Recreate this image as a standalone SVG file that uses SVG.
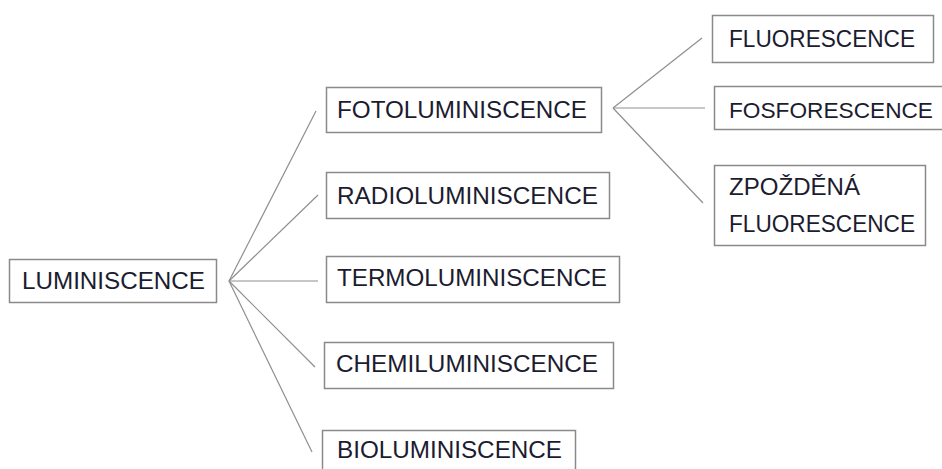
<svg xmlns="http://www.w3.org/2000/svg" width="942" height="469" viewBox="0 0 942 469">
<style>
.box{fill:#fff;stroke:#8a8a8a;stroke-width:1.5}
.t{font-family:"Liberation Sans",Arial,sans-serif;font-size:24px;fill:#1c1c30}
.c line{stroke:#8f8f8f;stroke-width:1.2}
</style>
<rect width="942" height="469" fill="#fff"/>
<g class="c" id="connectors">
<line x1="229" y1="281" x2="316" y2="111"/>
<line x1="229" y1="281" x2="318" y2="195"/>
<line x1="229" y1="281" x2="318" y2="281"/>
<line x1="229" y1="281" x2="315" y2="367"/>
<line x1="229" y1="281" x2="312" y2="452"/>
<line x1="613" y1="108" x2="702" y2="38"/>
<line x1="613" y1="108" x2="705" y2="108"/>
<line x1="613" y1="108" x2="703" y2="203"/>
</g>
<g id="luminiscence"><rect class="box" x="9.5" y="259.5" width="207" height="43"/><text class="t" x="22" y="289" textLength="183" lengthAdjust="spacingAndGlyphs">LUMINISCENCE</text></g>
<g id="fotoluminiscence"><rect class="box" x="326.5" y="87.5" width="275" height="45"/><text class="t" x="337" y="118" textLength="250" lengthAdjust="spacingAndGlyphs">FOTOLUMINISCENCE</text></g>
<g id="radioluminiscence"><rect class="box" x="326.5" y="172.5" width="283" height="46"/><text class="t" x="337" y="204" textLength="261" lengthAdjust="spacingAndGlyphs">RADIOLUMINISCENCE</text></g>
<g id="termoluminiscence"><rect class="box" x="326.5" y="256.5" width="293" height="46"/><text class="t" x="337" y="286" textLength="270" lengthAdjust="spacingAndGlyphs">TERMOLUMINISCENCE</text></g>
<g id="chemiluminiscence"><rect class="box" x="324.5" y="342.5" width="289" height="46"/><text class="t" x="336" y="372" textLength="262" lengthAdjust="spacingAndGlyphs">CHEMILUMINISCENCE</text></g>
<g id="bioluminiscence"><rect class="box" x="322.5" y="430.5" width="253" height="46"/><text class="t" x="337" y="458" textLength="225" lengthAdjust="spacingAndGlyphs">BIOLUMINISCENCE</text></g>
<g id="fluorescence"><rect class="box" x="712.5" y="15.5" width="221" height="47"/><text class="t" x="729" y="47" textLength="186" lengthAdjust="spacingAndGlyphs">FLUORESCENCE</text></g>
<g id="fosforescence"><rect class="box" x="714.5" y="86.5" width="240" height="43"/><text class="t" x="729" y="118" style="font-size:22.6px" textLength="204" lengthAdjust="spacingAndGlyphs">FOSFORESCENCE</text></g>
<g id="zpozdena"><rect class="box" x="714.5" y="165.5" width="211" height="80"/><text class="t" x="729" y="195" textLength="131" lengthAdjust="spacingAndGlyphs">ZPOŽDĚNÁ</text><text class="t" x="729" y="232" textLength="186" lengthAdjust="spacingAndGlyphs">FLUORESCENCE</text></g>
</svg>
